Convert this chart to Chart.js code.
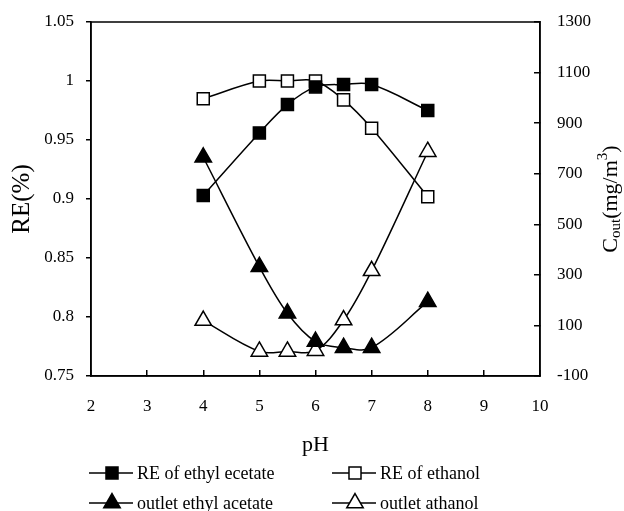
<!DOCTYPE html>
<html>
<head>
<meta charset="utf-8">
<script src="https://cdn.jsdelivr.net/npm/chart.js@4/dist/chart.umd.min.js"></script>
<style>
  html, body { margin: 0; padding: 0; background: #fff; }
</style>
</head>
<body>
<canvas id="chart" width="624" height="511"></canvas>
<script>
// pH values and the four measured series
const phValues = [4, 5, 5.5, 6, 6.5, 7, 8];
const reEthylAcetate = [0.903, 0.956, 0.980, 0.995, 0.997, 0.997, 0.975];
const reEthanol = [0.985, 1.000, 1.000, 1.000, 0.984, 0.960, 0.902];
const outletEthylAcetate = [765, 332, 148, 36, 12, 12, 194];
const outletEthanol = [119, -3, -3, 0, 121, 316, 787];
const seriesLabels = ['RE of ethyl ecetate', 'RE of ethanol', 'outlet ethyl acetate', 'outlet athanol'];

const serif = "'Liberation Serif', 'Times New Roman', serif";

function toPoints(ys) {
    return phValues.map((x, i) => ({ x: x, y: ys[i] }));
}

function makeSet(label, ys, axis, style, filled) {
    return {
        label: label,
        data: toPoints(ys),
        yAxisID: axis,
        borderColor: '#000',
        borderWidth: 1.5,
        tension: 0.35,
        pointStyle: style,
        pointRadius: style === 'rect' ? 8.5 : 9.5,
        pointBorderWidth: 1.5,
        pointBorderColor: '#000',
        pointBackgroundColor: filled ? '#000' : '#fff',
        fill: false
    };
}

// frame round the plot area
const boxPlugin = {
    id: 'box',
    afterDraw(chart) {
        const a = chart.chartArea;
        const ctx = chart.ctx;
        ctx.save();
        ctx.strokeStyle = '#000';
        ctx.lineWidth = 1.5;
        ctx.strokeRect(a.left, a.top, a.right - a.left, a.bottom - a.top);
        ctx.restore();
    }
};

// right axis title with sub/superscript
const rightTitlePlugin = {
    id: 'rightTitle',
    afterDraw(chart) {
        const ctx = chart.ctx;
        const parts = [
            { t: 'C', size: 22, dy: 0 },
            { t: 'out', size: 15, dy: 5 },
            { t: '(mg/m', size: 22, dy: 0 },
            { t: '3', size: 15, dy: -8 },
            { t: ')', size: 22, dy: 0 }
        ];
        ctx.save();
        ctx.translate(611, 199);
        ctx.rotate(-Math.PI / 2);
        ctx.fillStyle = '#000';
        ctx.textBaseline = 'middle';
        let total = 0;
        parts.forEach(p => {
            ctx.font = p.size + 'px ' + serif;
            p.w = ctx.measureText(p.t).width;
            total += p.w;
        });
        let x = -total / 2;
        parts.forEach(p => {
            ctx.font = p.size + 'px ' + serif;
            ctx.fillText(p.t, x, p.dy);
            x += p.w;
        });
        ctx.restore();
    }
};

// legend: line with marker in the middle
const legendSlots = [
    { x: 89, y: 473 }, { x: 332, y: 473 },
    { x: 89, y: 503 }, { x: 332, y: 503 }
];
const legendPlugin = {
    id: 'lineLegend',
    afterDraw(chart) {
        const ctx = chart.ctx;
        chart.data.datasets.forEach((ds, i) => {
            const s = legendSlots[i];
            ctx.save();
            ctx.strokeStyle = '#000';
            ctx.lineWidth = 1.5;
            ctx.beginPath();
            ctx.moveTo(s.x, s.y);
            ctx.lineTo(s.x + 44, s.y);
            ctx.stroke();
            ctx.fillStyle = ds.pointBackgroundColor;
            Chart.helpers.drawPoint(ctx, {
                pointStyle: ds.pointStyle,
                radius: ds.pointRadius,
                borderWidth: 1.5,
                rotation: 0
            }, s.x + 23, s.y);
            ctx.fillStyle = '#000';
            ctx.font = '18px ' + serif;
            ctx.textBaseline = 'middle';
            ctx.fillText(ds.label, s.x + 48, s.y + 1);
            ctx.restore();
        });
    }
};

const tickFont = { family: serif, size: 17 };

function fixWidth(w) {
    return function(scale) {
        scale.width = w;
        scale.paddingTop = 0;
        scale.paddingBottom = 0;
    };
}

new Chart(document.getElementById('chart'), {
    type: 'line',
    data: {
        datasets: [
            makeSet(seriesLabels[0], reEthylAcetate, 'y', 'rect', true),
            makeSet(seriesLabels[1], reEthanol, 'y', 'rect', false),
            makeSet(seriesLabels[2], outletEthylAcetate, 'y2', 'triangle', true),
            makeSet(seriesLabels[3], outletEthanol, 'y2', 'triangle', false)
        ]
    },
    options: {
        responsive: false,
        animation: false,
        devicePixelRatio: 1,
        layout: { padding: { top: 22, bottom: 53, left: 0, right: 0 } },
        plugins: {
            legend: { display: false },
            tooltip: { enabled: false }
        },
        scales: {
            x: {
                type: 'linear',
                min: 2,
                max: 10,
                ticks: { stepSize: 1, color: '#000', font: tickFont, padding: 26, autoSkip: false, maxRotation: 0 },
                grid: { drawOnChartArea: false, tickLength: -6, color: '#000', lineWidth: 1.5 },
                border: { color: '#000', width: 1.5 },
                title: { display: true, text: 'pH', color: '#000', font: { family: serif, size: 22 }, padding: 0 },
                afterFit(scale) {
                    scale.height = 82;
                    scale.paddingLeft = 0;
                    scale.paddingRight = 0;
                }
            },
            y: {
                position: 'left',
                min: 0.75,
                max: 1.05,
                ticks: {
                    stepSize: 0.05, color: '#000', font: tickFont, padding: 12, autoSkip: false,
                    callback: v => String(+v.toFixed(2))
                },
                grid: { drawOnChartArea: false, tickLength: 5, color: '#000', lineWidth: 1.5 },
                border: { color: '#000', width: 1.5 },
                title: { display: true, text: 'RE(%)', color: '#000', font: { family: serif, size: 25 }, padding: { top: 7, bottom: 0 } },
                afterFit: fixWidth(91)
            },
            y2: {
                position: 'right',
                min: -100,
                max: 1300,
                ticks: {
                    stepSize: 200, color: '#000', font: tickFont, padding: 23, autoSkip: false,
                    callback: v => String(Math.round(v))
                },
                grid: { drawOnChartArea: false, tickLength: -6, color: '#000', lineWidth: 1.5 },
                border: { color: '#000', width: 1.5 },
                afterFit: fixWidth(84)
            }
        }
    },
    plugins: [boxPlugin, rightTitlePlugin, legendPlugin]
});
</script>
</body>
</html>
